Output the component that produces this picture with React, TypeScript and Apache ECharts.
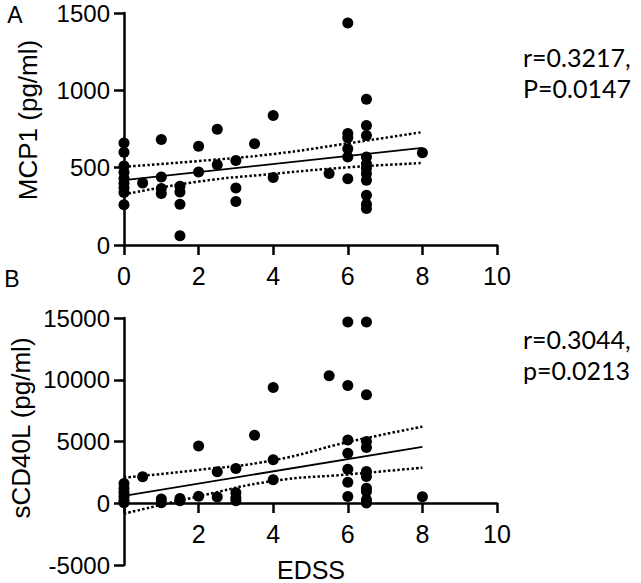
import React, { useEffect, useRef } from "react";
import * as echarts from "echarts";

// Panel A: MCP1 (pg/ml) vs EDSS
const mcpEdss = [
  0, 0, 0, 0, 0, 0, 0, 0, 0,
  0.5,
  1, 1, 1, 1,
  1.5, 1.5, 1.5, 1.5,
  2, 2,
  2.5, 2.5,
  3, 3, 3,
  3.5,
  4, 4,
  5.5,
  6, 6, 6, 6, 6, 6,
  6.5, 6.5, 6.5, 6.5, 6.5, 6.5, 6.5, 6.5, 6.5, 6.5, 6.5,
  8,
];
const mcpValues = [
  660, 600, 510, 470, 430, 400, 370, 340, 260,
  401,
  682, 440, 365, 333,
  380, 343, 264, 60,
  639, 472,
  749, 519,
  547, 369, 281,
  654,
  837, 437,
  463,
  1436, 721, 693, 622, 569, 429,
  942, 773, 708, 569, 526, 494, 461, 418, 322, 264, 236,
  597,
];
const mcpFitX = [0, 8];
const mcpFitY = [419, 628];
const mcpBandX = [0, 2, 4, 6, 8];
const mcpBandUpper = [506, 543, 588, 657, 730];
const mcpBandLower = [327, 410, 460, 502, 530];

// Panel B: sCD40L (pg/ml) vs EDSS
const cdEdss = [
  0, 0, 0, 0, 0, 0,
  0.5,
  1, 1,
  1.5, 1.5,
  2, 2,
  2.5, 2.5,
  3, 3, 3, 3,
  3.5,
  4, 4, 4,
  5.5,
  6, 6, 6, 6, 6, 6, 6,
  6.5, 6.5, 6.5, 6.5, 6.5, 6.5, 6.5, 6.5, 6.5, 6.5,
  8,
];
const cdValues = [
  1600, 1200, 880, 550, 250, 40,
  2140,
  350, 40,
  380, 200,
  4630, 560,
  2550, 500,
  2820, 860, 420, 200,
  5510,
  9380, 3530, 1900,
  10320,
  14680, 9540, 5130, 4050, 2760, 1700, 540,
  14680, 8780, 5000, 4510, 2570, 2160, 1220, 950, 280, 30,
  520,
];
const cdFitX = [0, 8];
const cdFitY = [600, 4560];
const cdBandX = [0, 2, 4, 6, 8];
const cdBandUpper = [2080, 2700, 3480, 4950, 6200];
const cdBandLower = [-850, 560, 1800, 2330, 2880];

const xTicks = { min: 0, max: 10, interval: 2 };
const mcpTicks = { min: 0, max: 1500, interval: 500 };
const cdTicks = { min: -5000, max: 15000, interval: 5000 };
const cdPositiveRange = { min: 0, max: 15000, interval: 5000 };

const statsA = ["r=0.3217,", "P=0.0147"];
const statsB = ["r=0.3044,", "p=0.0213"];

const FONT = "Liberation Sans, Arial, Helvetica, sans-serif";
const STATFONT = "Lato, Open Sans, sans-serif";

const zip = (xs: number[], ys: number[]) => xs.map((x, i) => [x, ys[i]]);

export default function App() {
  const ref = useRef<HTMLDivElement>(null);

  useEffect(() => {
    if (!ref.current) return;
    const chart = echarts.init(ref.current, undefined, { renderer: "svg" });

    const axisLine = { show: true, onZero: false, lineStyle: { color: "#000", width: 2.5 } };
    const axisTick = { show: true, length: 10, lineStyle: { color: "#000", width: 2.5 } };
    const axisLabel = {
      color: "#000",
      fontSize: 24,
      fontFamily: FONT,
      margin: 14,
      formatter: (v: number) => String(v),
    };

    const xAxisVisible = (gridIndex: number, hideZero: boolean) => ({
      type: "value",
      gridIndex,
      ...xTicks,
      axisLine,
      axisTick,
      splitLine: { show: false },
      axisLabel: {
        ...axisLabel,
        fontSize: 25,
        margin: 18,
        formatter: (v: number) => (hideZero && v === 0 ? "" : String(v)),
      },
    });
    const xAxisHidden = (gridIndex: number) => ({
      type: "value",
      gridIndex,
      ...xTicks,
      show: false,
      axisLine: { show: false, onZero: false },
      splitLine: { show: false },
    });

    const yAxisVisible = (gridIndex: number, ticks: any) => ({
      type: "value",
      gridIndex,
      ...ticks,
      axisLine,
      axisTick,
      splitLine: { show: false },
      axisLabel,
    });
    const yAxisHidden = (gridIndex: number, ticks: any) => ({
      type: "value",
      gridIndex,
      ...ticks,
      show: false,
      axisLine: { show: false, onZero: false },
      splitLine: { show: false },
    });

    const fitLine = (xi: number, data: number[][]) => ({
      type: "line",
      xAxisIndex: xi,
      yAxisIndex: xi,
      data,
      showSymbol: false,
      symbol: "none",
      lineStyle: { color: "#000", width: 1.8 },
      z: 2,
      silent: true,
    });
    const bandLine = (xi: number, data: number[][]) => ({
      type: "line",
      xAxisIndex: xi,
      yAxisIndex: xi,
      data,
      smooth: true,
      showSymbol: false,
      symbol: "none",
      lineStyle: { color: "#000", width: 2.5, type: [2.5, 2.2] },
      z: 2,
      silent: true,
    });
    const scatter = (xi: number, data: number[][]) => ({
      type: "scatter",
      xAxisIndex: xi,
      yAxisIndex: xi,
      data,
      symbol: "circle",
      symbolSize: 11,
      itemStyle: { color: "#000", opacity: 1 },
      z: 3,
    });

    const txt = (text: string, x: number, y: number, extra: any = {}) => ({
      type: "text",
      x,
      y,
      style: {
        text,
        fill: "#000",
        fontSize: 24,
        fontFamily: FONT,
        align: "center",
        verticalAlign: "middle",
        ...extra,
      },
    });

    chart.setOption({
      animation: false,
      backgroundColor: "#fff",
      grid: [
        { left: 124, right: 144, top: 13, height: 232, outerBoundsMode: "none", containLabel: false },
        { left: 124, right: 144, top: 318, height: 247, outerBoundsMode: "none", containLabel: false },
        // overlay grid for panel B's x-axis, which sits at sCD40L = 0
        { left: 124, right: 144, top: 318, height: 185, outerBoundsMode: "none", containLabel: false },
      ],
      xAxis: [xAxisVisible(0, false), xAxisHidden(1), xAxisVisible(2, true)],
      yAxis: [yAxisVisible(0, mcpTicks), yAxisVisible(1, cdTicks), yAxisHidden(2, cdPositiveRange)],
      series: [
        fitLine(0, zip(mcpFitX, mcpFitY)),
        bandLine(0, zip(mcpBandX, mcpBandUpper)),
        bandLine(0, zip(mcpBandX, mcpBandLower)),
        scatter(0, zip(mcpEdss, mcpValues)),
        fitLine(1, zip(cdFitX, cdFitY)),
        bandLine(1, zip(cdBandX, cdBandUpper)),
        bandLine(1, zip(cdBandX, cdBandLower)),
        scatter(1, zip(cdEdss, cdValues)),
      ],
      graphic: [
        txt("A", 15, 15, { fontSize: 23 }),
        txt("B", 12, 279, { fontSize: 23 }),
        { ...txt("MCP1 (pg/ml)", 28, 120, { fontSize: 26 }), rotation: Math.PI / 2 },
        { ...txt("sCD40L (pg/ml)", 21, 428, { fontSize: 26 }), rotation: Math.PI / 2 },
        txt("EDSS", 311, 570, { fontSize: 25 }),
        txt(statsA[0], 523, 57, { fontSize: 25, fontFamily: STATFONT, align: "left" }),
        txt(statsA[1], 523, 88, { fontSize: 25, fontFamily: STATFONT, align: "left" }),
        txt(statsB[0], 523, 339, { fontSize: 25, fontFamily: STATFONT, align: "left" }),
        txt(statsB[1], 523, 370, { fontSize: 25, fontFamily: STATFONT, align: "left" }),
      ],
    });

    return () => chart.dispose();
  }, []);

  return <div ref={ref} style={{ width: 641, height: 583, position: "absolute", left: 0, top: 0 }} />;
}
